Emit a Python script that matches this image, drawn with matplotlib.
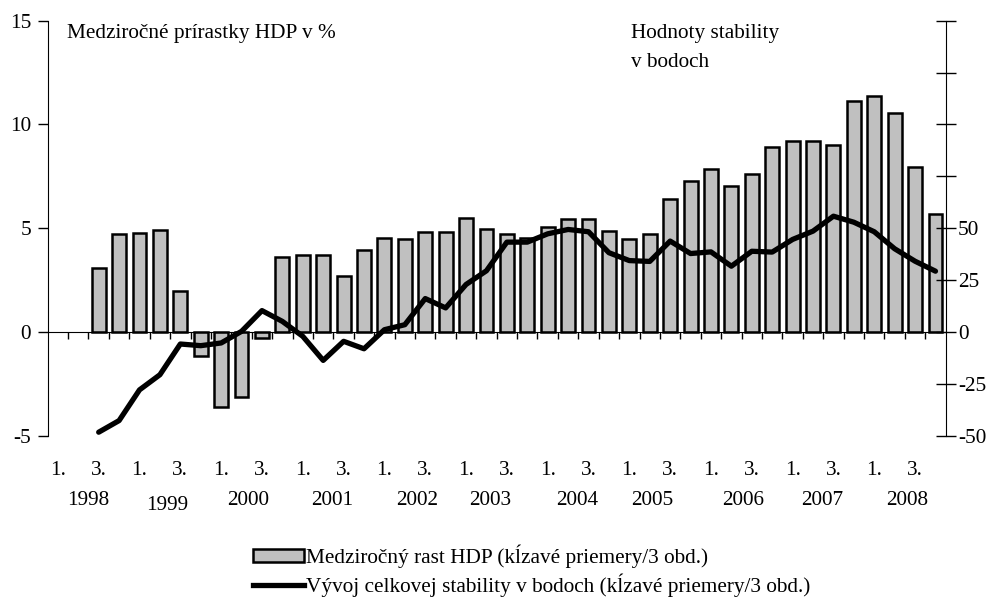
import numpy as np
import matplotlib.pyplot as plt
from matplotlib.patches import Patch
from matplotlib.lines import Line2D
from matplotlib.transforms import blended_transform_factory

plt.rcParams['font.family'] = ['Liberation Serif', 'DejaVu Serif']
plt.rcParams['axes.unicode_minus'] = False
plt.rcParams['font.size'] = 15.3

# quarters 1998 Q1 .. 2008 Q4, data start at 1998 Q3
n_quarters = 44
start = 2
quarter_labels = ['1.', '3.']
years = ['1998', '1999', '2000', '2001', '2002', '2003', '2004', '2005', '2006', '2007', '2008']
year_pos = [1.47, 5.34, 9.31, 13.43, 17.6, 21.17, 25.43, 29.1, 33.56, 37.43, 41.6]

gdp = [3.1, 4.7, 4.78, 4.93, 1.96, -1.18, -3.62, -3.13, -0.29, 3.62,
       3.72, 3.72, 2.7, 3.96, 4.54, 4.5, 4.8, 4.8, 5.47, 4.94,
       4.73, 4.52, 5.05, 5.46, 5.46, 4.86, 4.49, 4.7, 6.42, 7.28,
       7.84, 7.03, 7.63, 8.92, 9.18, 9.21, 9.01, 11.14, 11.38, 10.53,
       7.95, 5.67]
stability = [-48.3, -42.7, -27.9, -20.6, -5.8, -6.6, -5.3, 0.3, 10.3, 5.1,
             -2.1, -13.7, -4.5, -8.1, 1.1, 3.5, 16.1, 11.6, 22.9, 29.5,
             43.3, 43.3, 47.3, 49.4, 48.3, 38.2, 34.4, 34.0, 43.8, 37.8,
             38.6, 31.7, 38.9, 38.5, 44.6, 48.6, 55.8, 52.9, 48.3, 40.1,
             34.1, 29.3]

x = np.arange(start, start + len(gdp))

fig = plt.figure(figsize=(9.89, 6.04), dpi=100)
ax = fig.add_axes([0.0482, 0.2786, 0.908, 0.6871])

ax.bar(x, gdp, width=0.68, color='#c0c0c0', edgecolor='black', linewidth=1.8, zorder=2)
ax.set_xlim(-0.5, n_quarters - 0.5)
ax.set_ylim(-5, 15)
ax.set_yticks([-5, 0, 5, 10, 15])
ax.set_yticklabels(['-5', '0', '5', '10', '15'])
ax.tick_params(axis='y', direction='out', length=7, width=1, pad=5)

# zero line with small ticks between quarters
ax.spines['top'].set_visible(False)
ax.spines['right'].set_visible(False)
ax.spines['bottom'].set_position(('data', 0))
ax.spines['bottom'].set_zorder(3)
ax.set_xticks(np.arange(0.5, n_quarters - 0.5, 1.0))
ax.set_xticklabels([])
ax.tick_params(axis='x', direction='out', length=5, width=1)

# quarter labels
sec = ax.secondary_xaxis(-0.06)
sec.set_xticks(np.arange(0, n_quarters, 2))
sec.set_xticklabels([quarter_labels[i % 2] for i in range(n_quarters // 2)])
sec.tick_params(length=0, pad=0)
sec.spines['bottom'].set_visible(False)

trans = blended_transform_factory(ax.transData, ax.transAxes)
for yr, p in zip(years, year_pos):
    dy = -0.014 if yr == '1999' else 0.0
    ax.text(p, -0.155 + dy, yr, transform=trans, ha='center', va='center')

ax2 = ax.twinx()
ax2.plot(x, stability, color='black', linewidth=3.8, solid_capstyle='round',
         solid_joinstyle='round', zorder=4)
ax2.set_ylim(-50, 150)
ax2.set_yticks(np.arange(-50, 151, 25))
ax2.set_yticklabels(['-50', '-25', '0', '25', '50', '', '', '', ''])
ax2.tick_params(axis='y', direction='inout', length=14, width=1, pad=2)
for s in ['top', 'left', 'bottom']:
    ax2.spines[s].set_visible(False)

ax.text(0.0215, 0.970, 'Medziročné prírastky HDP v %', transform=ax.transAxes,
        ha='left', va='center')
ax.text(0.6496, 0.970, 'Hodnoty stability', transform=ax.transAxes,
        ha='left', va='center')
ax.text(0.6496, 0.900, 'v bodoch', transform=ax.transAxes,
        ha='left', va='center')

handles = [Patch(facecolor='#c0c0c0', edgecolor='black', linewidth=1.8),
           Line2D([], [], color='black', linewidth=3.8)]
names = ['Medziročný rast HDP (kĺzavé priemery/3 obd.)',
         'Vývoj celkovej stability v bodoch (kĺzavé priemery/3 obd.)']
fig.legend(handles, names, loc='upper left', bbox_to_anchor=(0.256, 0.098),
           frameon=False, handlelength=2.4, handleheight=0.55, handletextpad=0.1,
           labelspacing=0.25, borderpad=0, borderaxespad=0)

fig.savefig('out.png', dpi=100)
